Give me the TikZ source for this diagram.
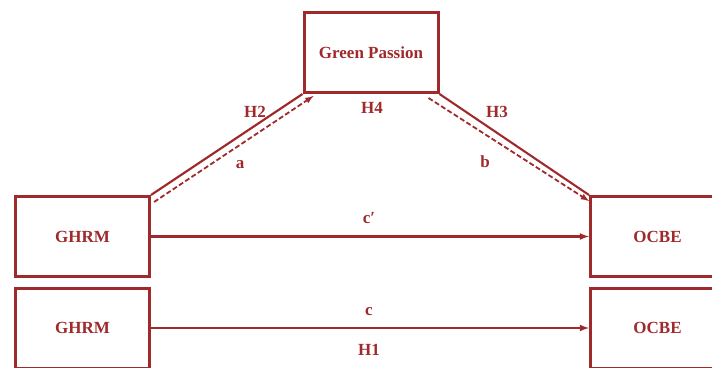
\documentclass[tikz,border=0pt]{standalone}
\usepackage{fontspec}
\setmainfont{Liberation Serif}
\usetikzlibrary{calc}
\usetikzlibrary{arrows}
\definecolor{DarkRed}{HTML}{9E2A2B}

\begin{document}
\begin{tikzpicture}[x=1pt, y=1pt,
  every node/.style={text=DarkRed, font=\fontsize{17}{20}\selectfont\bfseries},
  varbox/.style={draw=DarkRed, line width=3pt, minimum width=134pt, minimum height=80pt},
  link/.style={DarkRed, line width=2.1pt},
  indirect/.style={DarkRed, line width=1.8pt, dash pattern=on 5pt off 2.5pt}]
  \useasboundingbox (0,0) rectangle (712,367);
  \clip (0,0) rectangle (712,367);

  \node [varbox] (Passion) at (371,314.5) {Green Passion};
  \node [varbox] (GhrmTop) at (82.5,130.5) {GHRM};
  \node [varbox] (OcbeTop) at (657.5,130.5) {OCBE};
  \node [varbox] (GhrmBot) at (82.5,39) {GHRM};
  \node [varbox] (OcbeBot) at (657.5,39) {OCBE};

  % mediated paths
  \draw [link] (GhrmTop.north east) -- (Passion.south west);
  \draw [indirect,-latex] ($(GhrmTop.north east)+(3,-7)$) -- ($(Passion.south west)+(11,-2)$);
  \draw [link] (Passion.south east) -- (OcbeTop.north west);
  \draw [indirect,-latex] ($(Passion.south east)+(-11,-4)$) -- ($(OcbeTop.north west)+(0,-6)$);

  % direct paths
  \draw [link,-latex] (GhrmTop.east) -- (OcbeTop.west);
  \draw [link,-latex] (GhrmBot.east) -- (OcbeBot.west);

  \node (LabH2) at (255,255) {H2};
  \node (LabA)  at (240,202) {a};
  \node (LabH4) at (372,259) {H4};
  \node (LabH3) at (497,255) {H3};
  \node (LabB)  at (485,205) {b};
  \node (LabCp) at (369,149) {c′};
  \node (LabC)  at (369,55) {c};
  \node (LabH1) at (369,17) {H1};
\end{tikzpicture}
\end{document}
